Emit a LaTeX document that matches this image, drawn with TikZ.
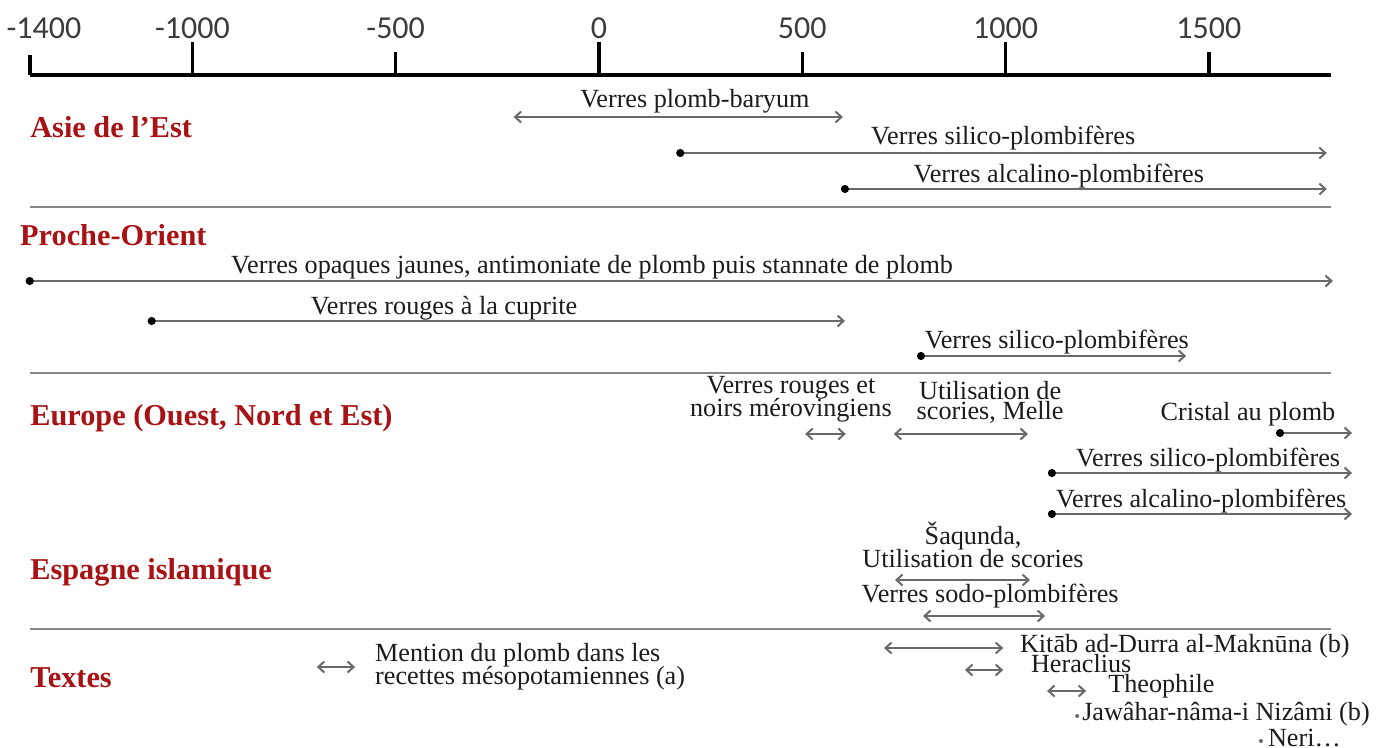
\documentclass[tikz,border=0pt]{standalone}
\usepackage{fontspec}
\setmainfont{Liberation Serif}
\newfontfamily\axisfont{Carlito}
\usetikzlibrary{arrows.meta}

\definecolor{regred}{RGB}{168,18,20}
\definecolor{txtcol}{RGB}{28,28,28}
\definecolor{axcol}{RGB}{60,60,60}
\definecolor{spancol}{RGB}{105,105,105}
\definecolor{sepcol}{RGB}{135,135,135}

\tikzset{
  region/.style={anchor=base west, inner sep=0pt, text=regred,
    font=\bfseries\fontsize{30.3}{30}\selectfont},
  lbl/.style={anchor=base, inner sep=0pt, text=txtcol, align=center,
    font=\fontsize{26.2}{22}\selectfont},
  lbll/.style={lbl, anchor=base west, align=left},
  yearlbl/.style={anchor=base, inner sep=0pt, text=axcol,
    font=\axisfont\fontsize{32}{32}\selectfont},
  sepline/.style={draw=sepcol, line width=2.5pt},
  barb/.tip={Straight Barb[length=6pt,width=11pt]},
  span/.style={draw=spancol, line width=2pt, barb-barb},
  since/.style={draw=spancol, line width=2pt, {Circle[length=8pt,black]}-barb},
}

\begin{document}
\begin{tikzpicture}[x=0.4066pt, y=-1pt]
\useasboundingbox[fill=white] (-1473.2,0) rectangle (1950.3,747);

% time axis
\draw[line width=3.5pt] (-1400,75) -- (1800,75);
\foreach \yr/\top in {-1400/55,-1000/42,-500/52,0/42,500/52,1000/42,1500/52}
  \draw[line width=3.5pt] (\yr,75) -- (\yr,\top);
\node[yearlbl] (tick0) at (-1365,38) {-1400};
\foreach \yr [count=\i] in {-1000,-500,0,500,1000,1500}
  \node[yearlbl] (tick\i) at (\yr,38) {\yr};

% separators
\draw[sepline] (-1400,207) -- (1800,207);
\draw[sepline] (-1400,373) -- (1800,373);
\draw[sepline] (-1400,629) -- (1800,629);

% regions
\node[region] (asie) at (-1399,137) {Asie de l’Est};
\node[region] (proche) at (-1424,245) {Proche-Orient};
\node[region] (europe) at (-1399,425) {Europe (Ouest, Nord et Est)};
\node[region] (espagne) at (-1399,579) {Espagne islamique};
\node[region] (textes) at (-1399,687) {Textes};

% Asie de l'Est
\node[lbl] (pbT) at (236,107) {Verres plomb-baryum};
\coordinate (pbA) at (-210,117); \coordinate (pbB) at (600,117);
\draw[span] (pbA) -- (pbB);
\node[lbl] (asilT) at (994,144) {Verres silico-plombifères};
\coordinate (asilA) at (190,153); \coordinate (asilB) at (1790,153);
\draw[since] (asilA) -- (asilB);
\node[lbl] (aalcT) at (1131,182) {Verres alcalino-plombifères};
\coordinate (aalcA) at (595,189); \coordinate (aalcB) at (1790,189);
\draw[since] (aalcA) -- (aalcB);

% Proche-Orient
\node[lbl] (opqT) at (-17,273) {Verres opaques jaunes, antimoniate de plomb puis stannate de plomb};
\coordinate (opqA) at (-1410,281); \coordinate (opqB) at (1805,281);
\draw[since] (opqA) -- (opqB);
\node[lbl] (cupT) at (-381,314) {Verres rouges à la cuprite};
\coordinate (cupA) at (-1110,321); \coordinate (cupB) at (605,321);
\draw[since] (cupA) -- (cupB);
\node[lbl] (psilT) at (1126,348) {Verres silico-plombifères};
\coordinate (psilA) at (782,356); \coordinate (psilB) at (1444,356);
\draw[since] (psilA) -- (psilB);

% Europe
\node[lbl] (merT) at (472,416) {Verres rouges et\\[-2pt]noirs mérovingiens};
\coordinate (merA) at (507,434); \coordinate (merB) at (607,434);
\draw[span] (merA) -- (merB);
\node[lbl] (melT) at (962,419) {Utilisation de\\[-2pt]scories, Melle};
\coordinate (melA) at (725,434); \coordinate (melB) at (1055,434);
\draw[span] (melA) -- (melB);
\node[lbl] (criT) at (1596,420) {Cristal au plomb};
\coordinate (criA) at (1665,433); \coordinate (criB) at (1852,433);
\draw[since] (criA) -- (criB);
\node[lbl] (esilT) at (1498,466) {Verres silico-plombifères};
\coordinate (esilA) at (1104,473); \coordinate (esilB) at (1852,473);
\draw[since] (esilA) -- (esilB);
\node[lbl] (ealcT) at (1481,507) {Verres alcalino-plombifères};
\coordinate (ealcA) at (1104,514); \coordinate (ealcB) at (1852,514);
\draw[since] (ealcA) -- (ealcB);

% Espagne islamique
\node[lbl] (saqT) at (920,567) {Šaqunda,\\[-2pt]Utilisation de scories};
\coordinate (saqA) at (728,580); \coordinate (saqB) at (1060,580);
\draw[span] (saqA) -- (saqB);
\node[lbl] (sodoT) at (962,602) {Verres sodo-plombifères};
\coordinate (sodoA) at (797,616); \coordinate (sodoB) at (1097,616);
\draw[span] (sodoA) -- (sodoB);

% Textes
\coordinate (mesA) at (-694,667); \coordinate (mesB) at (-600,667);
\draw[span] (mesA) -- (mesB);
\node[lbll] (mesT) at (-551,684) {Mention du plomb dans les\\[-2pt]recettes mésopotamiennes (a)};
\coordinate (kitA) at (701,648); \coordinate (kitB) at (994,648);
\draw[span] (kitA) -- (kitB);
\node[lbll] (kitT) at (1035,652) {Kitāb ad-Durra al-Maknūna (b)};
\coordinate (herA) at (900,670); \coordinate (herB) at (994,670);
\draw[span] (herA) -- (herB);
\node[lbll] (herT) at (1062,672) {Heraclius};
\coordinate (theA) at (1102,691); \coordinate (theB) at (1198,691);
\draw[span] (theA) -- (theB);
\node[lbll] (theT) at (1252,692) {Theophile};
\coordinate (jawP) at (1176,716);
\fill[spancol] (jawP) circle (2pt);
\node[lbll] (jawT) at (1188,720) {Jawâhar-nâma-i Nizâmi (b)};
\coordinate (neriP) at (1628,741);
\fill[spancol] (neriP) circle (2pt);
\node[lbll] (neriT) at (1645,746) {Neri…};
\end{tikzpicture}
\end{document}
